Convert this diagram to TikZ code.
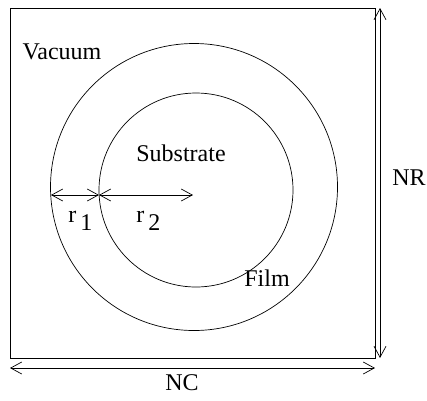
\documentclass[tikz,border=0pt]{standalone}
\usepackage{fontspec}
\setmainfont{Liberation Serif}
\usetikzlibrary{arrows.meta}
\begin{document}
\begin{tikzpicture}[x=1pt,y=-1pt, line width=0.7pt,
  tip/.tip={Straight Barb[length=11pt,width=12pt,line width=0.7pt]},
  dim/.style={{tip}-{tip}},
  lbl/.style={font=\fontsize{24}{28}\selectfont, inner sep=0pt}]
\useasboundingbox (0,0) rectangle (427,400);
\node[draw, minimum width=365pt, minimum height=350pt, anchor=north west, inner sep=0pt] (box) at (10,8) {};
\node[draw, circle, minimum size=287pt, inner sep=0pt] (outer) at (194,187) {};
\node[draw, circle, minimum size=194pt, inner sep=0pt] (inner) at (196,190) {};
\coordinate (p1) at (51,195);
\coordinate (p2) at (99,195);
\coordinate (c) at (193,195);
\draw[dim] (p1) -- (p2);
\draw[dim] (p2) -- (c);
\coordinate (nrt) at (380,8);
\coordinate (nrb) at (380,358);
\coordinate (ncl) at (10,368);
\coordinate (ncr) at (375,368);
\draw[dim] (nrt) -- (nrb);
\draw[dim] (ncl) -- (ncr);
\node[lbl] (vac) at (62,52) {Vacuum};
\node[lbl] (sub) at (181,153) {Substrate};
\node[lbl] (film) at (267,278) {Film};
\node[lbl] (nr) at (409,178) {NR};
\node[lbl] (nc) at (182,383) {NC};
\node[lbl, anchor=base west] (r1) at (68,222) {r\,\raisebox{-8pt}{1}};
\node[lbl, anchor=base west] (r2) at (136,222) {r\,\raisebox{-8pt}{2}};
\end{tikzpicture}
\end{document}
